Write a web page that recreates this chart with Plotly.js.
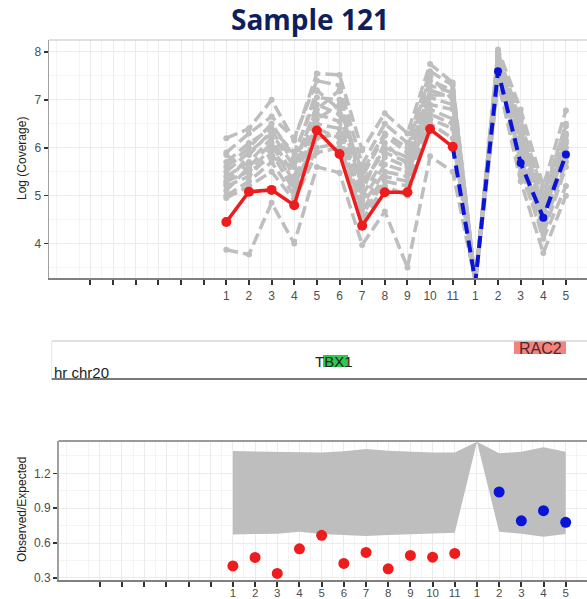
<!DOCTYPE html>
<html><head><meta charset="utf-8">
<script src="https://cdn.plot.ly/plotly-3.0.1.min.js"></script>
<style>html,body{margin:0;padding:0;background:#fff}#chart{width:587px;height:599px}</style>
</head><body><div id="chart"></div>
<script>
// ---- data ----
const tickLabels = ['', '', '', '', '', '', '1','2','3','4','5','6','7','8','9','10','11','1','2','3','4','5'];
const tickPos = [0,1,2,3,4,5,6,7,8,9,10,11,12,13,14,15,16,17,18,19,20,21];
const exonPos = [6,7,8,9,10,11,12,13,14,15,16,17,18,19,20,21];
const gene1Pos = [6,7,8,9,10,11,12,13,14,15,16];
const gene2Pos = [16,17,18,19,20,21];
const gene2DotPos = [18,19,20,21];

const sampleCov1 = [4.45,5.08,5.12,4.80,6.36,5.87,4.37,5.07,5.07,6.39,6.02];
const sampleCov2 = [6.02,3.20,7.60,5.68,4.54,5.86];

const refCov = [
  [3.87,3.77,4.85,4.00,5.60,5.48,3.97,4.67,3.50,5.82,5.50,3.20,7.35,5.60,4.10,5.20],
  [6.20,6.40,7.00,6.15,7.55,7.52,5.95,6.72,6.30,7.75,7.36,3.20,8.05,6.80,5.20,6.78],
  [5.90,6.30,6.65,6.20,7.40,7.30,5.65,6.50,6.10,7.60,7.30,3.20,8.00,6.55,5.05,6.45],
  [5.70,6.10,6.40,5.90,7.05,7.00,5.40,6.25,5.90,7.40,7.20,3.20,7.92,6.30,4.90,6.25],
  [5.50,5.90,6.30,5.60,6.90,6.70,5.20,6.00,5.80,7.20,7.05,3.20,7.85,6.10,4.70,6.10],
  [5.40,5.70,6.20,5.40,6.70,6.55,5.00,5.80,5.60,7.05,6.90,3.20,7.80,6.00,4.60,6.00],
  [5.30,5.50,6.00,5.30,6.50,6.40,4.90,5.65,5.50,6.90,6.80,3.20,7.72,5.90,4.50,5.90],
  [5.20,5.40,5.90,5.10,6.40,6.20,4.80,5.50,5.40,6.80,6.60,3.20,7.68,5.80,4.40,5.80],
  [5.10,5.60,6.10,5.20,6.20,6.30,4.70,5.40,5.30,6.70,6.50,3.20,7.60,5.70,4.30,5.70],
  [5.00,5.30,5.70,5.00,6.00,6.10,4.60,5.30,5.20,6.60,6.40,3.20,7.50,5.50,4.20,5.60],
  [5.85,5.50,5.80,5.60,6.60,6.90,5.30,5.90,5.70,7.10,7.10,3.20,7.90,6.20,4.80,6.30],
  [4.95,5.20,5.50,4.90,5.90,6.00,4.50,5.20,5.00,6.50,6.20,3.20,7.40,5.30,3.80,5.00],
  [5.60,6.00,6.50,5.80,7.20,6.80,5.50,6.30,6.00,7.50,7.00,3.20,7.95,6.60,4.95,6.50],
  [5.25,5.85,6.35,5.70,6.80,7.20,5.10,6.10,5.65,7.30,7.15,3.20,7.75,6.40,4.65,6.15]
];

const ribbonUpper = [1.392,1.390,1.386,1.386,1.378,1.390,1.410,1.395,1.385,1.380,1.378,1.472,1.372,1.386,1.424,1.386];
const ribbonLower = [0.674,0.680,0.680,0.697,0.677,0.670,0.660,0.668,0.675,0.682,0.688,1.472,0.697,0.680,0.654,0.677];
const ratio1 = [0.403,0.476,0.338,0.550,0.666,0.424,0.519,0.378,0.493,0.478,0.510];
const ratio2 = [1.039,0.791,0.878,0.778];

// ---- helpers ----
const W = 587, H = 599;
const px = x => x / W;
const py = y => 1 - y / H;

const traces = [];
refCov.forEach(v => traces.push({
  x: exonPos, y: v, xaxis: 'x', yaxis: 'y', type: 'scatter', mode: 'lines+markers',
  line: {color: '#BEBEBE', width: 3.5, dash: '12px,5px'},
  marker: {color: '#BEBEBE', size: 6}, hoverinfo: 'skip', showlegend: false
}));
traces.push({
  x: gene2Pos, y: sampleCov2, xaxis: 'x', yaxis: 'y', type: 'scatter', mode: 'lines+markers',
  line: {color: '#0A14D8', width: 4, dash: '12px,7px'},
  marker: {color: '#0A14D8', size: 8}, showlegend: false
});
traces.push({
  x: gene1Pos, y: sampleCov1, xaxis: 'x', yaxis: 'y', type: 'scatter', mode: 'lines+markers',
  line: {color: '#EE1C1C', width: 3.5},
  marker: {color: '#EE1C1C', size: 10}, showlegend: false
});
// bottom ribbon
traces.push({
  x: exonPos, y: ribbonLower, xaxis: 'x2', yaxis: 'y2', type: 'scatter', mode: 'lines',
  line: {width: 0, color: '#BEBEBE'}, showlegend: false, hoverinfo: 'skip'
});
traces.push({
  x: exonPos, y: ribbonUpper, xaxis: 'x2', yaxis: 'y2', type: 'scatter', mode: 'lines',
  line: {width: 0, color: '#BEBEBE'}, fill: 'tonexty', fillcolor: '#BEBEBE', showlegend: false, hoverinfo: 'skip'
});
traces.push({
  x: gene1Pos, y: ratio1, xaxis: 'x2', yaxis: 'y2', type: 'scatter', mode: 'markers',
  marker: {color: '#EE1C1C', size: 11}, showlegend: false, cliponaxis: false
});
traces.push({
  x: gene2DotPos, y: ratio2, xaxis: 'x2', yaxis: 'y2', type: 'scatter', mode: 'markers',
  marker: {color: '#0A14D8', size: 11}, showlegend: false, cliponaxis: false
});

const tickFont = {family: 'Liberation Sans, Arial, sans-serif', size: 12, color: '#4D4D4D'};
const xCommon = {
  tickmode: 'array', tickvals: tickPos, ticktext: tickLabels,
  ticks: 'outside', ticklen: 5, tickwidth: 2, tickcolor: '#333333',
  showgrid: true, gridcolor: '#EBEBEB', gridwidth: 1,
  minor: {tick0: 0.5, dtick: 1, showgrid: true, gridcolor: '#F4F4F4', gridwidth: 1, ticks: ''},
  showline: true, linecolor: '#808080', linewidth: 2,
  zeroline: false, tickfont: tickFont, fixedrange: true
};
const yCommon = {
  ticks: 'outside', ticklen: 4, tickwidth: 1.5, tickcolor: '#333333',
  showgrid: true, gridcolor: '#EBEBEB', gridwidth: 1,
  showline: true, linecolor: '#A0A0A0', linewidth: 1.5,
  zeroline: false, tickfont: tickFont, fixedrange: true
};

const layout = {
  width: W, height: H,
  margin: {l: 0, r: 0, t: 0, b: 0},
  paper_bgcolor: '#FFFFFF', plot_bgcolor: '#FFFFFF',
  showlegend: false,
  xaxis: Object.assign({}, xCommon, {domain: [px(49), 1], range: [-1.83, 21.93], anchor: 'y', ticklabelstandoff: 1}),
  yaxis: Object.assign({}, yCommon, {domain: [py(278), py(40)], range: [3.28, 8.25], anchor: 'x',
    tickvals: [4,5,6,7,8], minor: {dtick: 0.5, tick0: 0, showgrid: true, gridcolor: '#F4F4F4', ticks: ''}}),
  xaxis2: Object.assign({}, xCommon, {domain: [px(58.5), 1], range: [-1.86, 21.96], anchor: 'y2',
    ticklabelstandoff: -3, tickfont: {family: 'Liberation Sans, Arial, sans-serif', size: 11.5, color: '#4D4D4D'}}),
  yaxis2: Object.assign({}, yCommon, {domain: [py(579.5), py(441)], range: [0.286, 1.478], anchor: 'x2',
    tickvals: [0.3,0.6,0.9,1.2], ticktext: ['0.3','0.6','0.9','1.2'],
    minor: {dtick: 0.15, tick0: 0.15, showgrid: true, gridcolor: '#F4F4F4', ticks: ''}}),
  shapes: [
    // top borders of plots
    {type: 'line', xref: 'paper', yref: 'paper', x0: px(49), x1: 1, y0: py(40), y1: py(40), line: {color: '#D4D4D4', width: 1.5}},
    {type: 'line', xref: 'paper', yref: 'paper', x0: px(58.5), x1: 1, y0: py(441), y1: py(441), line: {color: '#9A9A9A', width: 2}},
    // middle gene track box
    {type: 'line', xref: 'paper', yref: 'paper', x0: px(51.7), x1: 1, y0: py(341), y1: py(341), line: {color: '#D6D6D6', width: 1.5}},
    {type: 'line', xref: 'paper', yref: 'paper', x0: px(51.7), x1: px(51.7), y0: py(341), y1: py(379), line: {color: '#E6E6E6', width: 1}},
    {type: 'line', xref: 'paper', yref: 'paper', x0: px(51.7), x1: 1, y0: py(379), y1: py(379), line: {color: '#7A7A7A', width: 2}},
    {type: 'rect', xref: 'paper', yref: 'paper', x0: px(323), x1: px(348), y0: py(367), y1: py(355), fillcolor: '#2DC84D', line: {width: 0}},
    {type: 'rect', xref: 'paper', yref: 'paper', x0: px(514), x1: px(566), y0: py(354), y1: py(341.5), fillcolor: '#F4827D', line: {width: 0}}
  ],
  annotations: [
    {text: '<b>Sample 121</b>', xref: 'paper', yref: 'paper', x: px(310), y: py(19.5), xanchor: 'center', yanchor: 'middle',
      showarrow: false, font: {family: 'Open Sans, sans-serif', size: 28, color: '#0F1F5C'}},
    {text: 'Log (Coverage)', xref: 'paper', yref: 'paper', x: px(22), y: py(159), textangle: -90, xanchor: 'center', yanchor: 'middle',
      showarrow: false, font: {family: 'Liberation Sans, Arial, sans-serif', size: 12, color: '#222222'}},
    {text: 'Observed/Expected', xref: 'paper', yref: 'paper', x: px(22), y: py(510), textangle: -90, xanchor: 'center', yanchor: 'middle',
      showarrow: false, font: {family: 'Liberation Sans, Arial, sans-serif', size: 12, color: '#222222'}},
    {text: 'hr chr20', xref: 'paper', yref: 'paper', x: px(52), y: py(372.5), xanchor: 'left', yanchor: 'middle',
      showarrow: false, font: {family: 'Liberation Sans, Arial, sans-serif', size: 15, color: '#222222'}},
    {text: 'TBX1', xref: 'paper', yref: 'paper', x: px(333.5), y: py(361), xanchor: 'center', yanchor: 'middle',
      showarrow: false, font: {family: 'Liberation Sans, Arial, sans-serif', size: 15, color: '#222222'}},
    {text: 'RAC2', xref: 'paper', yref: 'paper', x: px(540), y: py(348), xanchor: 'center', yanchor: 'middle',
      showarrow: false, font: {family: 'Liberation Sans, Arial, sans-serif', size: 16, color: '#4A2A2A'}}
  ]
};

Plotly.newPlot('chart', traces, layout, {displayModeBar: false, staticPlot: true});
</script>
</body></html>
